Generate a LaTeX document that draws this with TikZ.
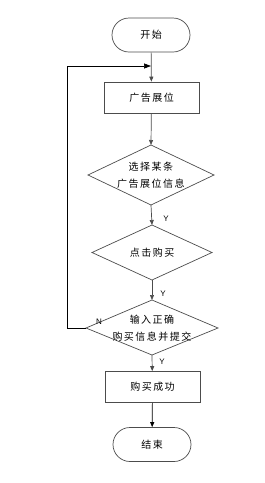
\documentclass[tikz,border=0pt]{standalone}
\usepackage{fontspec}
\newfontfamily\cjk[LetterSpace=15]{Noto Sans CJK SC}
\usetikzlibrary{shapes.geometric,shapes.misc,arrows.meta}
\begin{document}
\begin{tikzpicture}[x=1pt,y=-1pt,
  base/.style={draw=black!70,line width=0.7pt,font=\cjk\fontsize{10}{17.5}\selectfont,align=center,inner sep=0pt},
  term/.style={base,rounded rectangle,minimum width=78pt,minimum height=34pt},
  proc/.style={base,rectangle,minimum width=95pt,minimum height=31pt},
  arr/.style={draw=black!70,line width=0.7pt,-{Triangle[length=5pt,width=4pt]}},
  lbl/.style={font=\fontspec{Liberation Sans}\fontsize{8}{9}\selectfont,inner sep=0pt}]
\useasboundingbox (0,0) rectangle (265,483);
\node[term] (start) at (151,35) {开始};
\node[proc] (ad) at (151.5,97.5) {广告展位};
\draw[base] (151,145) coordinate (d1t) -- (214,175) coordinate (d1r) -- (151,205) coordinate (d1b) -- (88,175) coordinate (d1l) -- cycle;
\node[base,draw=none] (d1) at (151,175) {选择某条\\广告展位信息};
\draw[base] (152,225) coordinate (d2t) -- (212,252.5) coordinate (d2r) -- (152,280) coordinate (d2b) -- (92,252.5) coordinate (d2l) -- cycle;
\node[base,draw=none] (d2) at (152,252.5) {点击购买};
\draw[base] (152,300) coordinate (d3t) -- (218,328) coordinate (d3r) -- (152,355) coordinate (d3b) -- (86,328) coordinate (d3l) -- cycle;
\node[base,draw=none] (d3) at (152,328) {输入正确\\购买信息并提交};
\node[proc] (ok) at (152.5,387) {购买成功};
\node[term] (end) at (152,444.5) {结束};
\coordinate (loopA) at (67,328);
\coordinate (loopB) at (67,66);
\coordinate (loopC) at (151,66);
\draw[arr] (start) -- (ad);
\draw[arr] (ad) -- (d1t);
\draw[arr] (d1b) -- (d2t);
\draw[arr] (d2b) -- (d3t);
\draw[arr] (d3b) -- (ok);
\draw[arr,draw=black] (ok) -- (end);
\draw[black,line width=0.7pt,-{Triangle[length=7pt,width=5pt]}] (d3l) -- (loopA) -- (loopB) -- (loopC);
\node[lbl] (y1) at (166,219) {Y};
\node[lbl] (y2) at (163,294) {Y};
\node[lbl] (y3) at (162,362) {Y};
\node[lbl] (n1) at (99,322) {N};
\end{tikzpicture}
\end{document}
